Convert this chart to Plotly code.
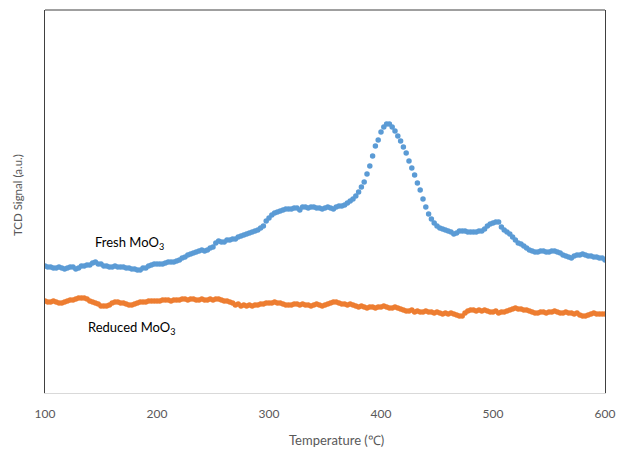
import plotly.graph_objects as go

# TCD signal (a.u.), sampled every 2.5 degC from 100 to 600 degC
fresh = [
    127,126,126,125,125,126,125,124,125,126,
    126,124,125,127,127,128,128,130,131,129,
    129,127,127,126,126,127,126,126,126,125,
    125,124,124,123,123,125,125,127,128,129,
    129,129,129,130,131,131,131,132,133,135,
    136,138,139,140,141,142,143,142,143,145,
    146,150,152,151,151,153,153,154,154,156,
    157,158,159,160,161,162,163,165,167,172,
    175,178,180,181,182,183,184,184,184,185,
    185,183,186,186,185,186,186,185,185,184,
    185,186,185,184,186,187,187,188,190,192,
    194,197,201,206,211,219,227,237,247,253,
    261,266,269,269,266,262,257,252,246,240,
    232,225,218,210,203,194,186,179,174,170,
    167,165,164,163,162,161,159,160,162,162,
    162,161,161,161,161,162,162,164,167,169,
    170,171,171,166,163,161,159,156,153,150,
    149,147,145,143,142,141,141,142,142,141,
    141,142,142,141,140,138,137,136,135,137,
    138,138,139,138,137,137,136,136,135,135,
    133,
]
reduced = [
    92,91,91,92,91,90,90,91,92,93,
    93,94,95,95,95,94,92,91,90,89,
    87,87,87,88,90,91,91,90,90,89,
    88,88,89,90,91,91,91,92,92,92,
    92,92,93,93,93,92,93,93,93,94,
    94,93,94,94,93,93,94,93,93,94,
    93,94,94,93,92,92,91,90,88,89,
    87,88,87,88,87,88,88,89,89,90,
    90,90,91,90,90,89,88,88,88,89,
    89,88,89,88,88,87,88,89,88,87,
    88,89,90,91,91,90,89,89,88,89,
    88,87,86,87,86,85,86,86,85,86,
    86,87,86,85,85,86,85,84,83,82,
    82,83,81,82,81,81,82,81,81,80,
    81,80,79,80,79,80,79,78,77,77,
    80,82,83,83,82,83,82,83,82,81,
    81,82,80,81,81,82,83,84,85,84,
    84,83,83,82,81,80,80,81,81,80,
    81,81,82,81,80,80,81,80,80,79,
    80,78,77,77,78,79,80,79,79,79,
    79,
]
temperature = [100 + 2.5 * i for i in range(len(fresh))]
x_ticks = [100, 200, 300, 400, 500, 600]

FONT = "Lato"
GRAY = "#595959"

fig = go.Figure()
fig.add_trace(go.Scatter(x=temperature, y=fresh, mode="markers", name="Fresh MoO3",
                         marker=dict(color="#5B9BD5", size=5.5, line=dict(width=0))))
fig.add_trace(go.Scatter(x=temperature, y=reduced, mode="markers", name="Reduced MoO3",
                         marker=dict(color="#ED7D31", size=5.5, line=dict(width=0))))

fig.update_layout(
    width=619, height=449,
    autosize=False,
    margin=dict(l=45, r=14, t=10, b=56, autoexpand=False),
    paper_bgcolor="white", plot_bgcolor="white",
    showlegend=False,
    font=dict(family=FONT, size=12, color=GRAY),
    xaxis=dict(range=[100, 600], tickvals=x_ticks, ticktext=[str(v) for v in x_ticks],
               showgrid=False, zeroline=False, showline=True, linecolor="#d9d9d9",
               linewidth=1, ticks="", ticklabelstandoff=10, automargin=False,
               tickfont=dict(family=FONT, size=12, color=GRAY)),
    yaxis=dict(range=[0, 383], showgrid=False, zeroline=False, showticklabels=False,
               showline=True, linecolor="#404040", linewidth=1, mirror=True, ticks="",
               automargin=False),
    shapes=[dict(type="line", xref="paper", yref="paper", x0=0, x1=1, y0=1, y1=1,
                 line=dict(color="#404040", width=1))],
    annotations=[
        dict(text="Temperature (℃)", xref="paper", yref="paper", x=0.521, y=-0.123,
             xanchor="center", yanchor="middle", showarrow=False,
             font=dict(family=FONT, size=13, color=GRAY)),
        dict(text="TCD Signal (a.u.)", xref="paper", yref="paper", x=-0.048, y=0.517,
             xanchor="center", yanchor="middle", textangle=-90, showarrow=False,
             font=dict(family=FONT, size=11.5, color=GRAY)),
        dict(text="Fresh MoO<sub>3</sub>", x=175, y=150, xanchor="center", yanchor="middle",
             showarrow=False, font=dict(family=FONT, size=13, color="black")),
        dict(text="Reduced MoO<sub>3</sub>", x=178, y=65, xanchor="center", yanchor="middle",
             showarrow=False, font=dict(family=FONT, size=13, color="black")),
    ],
)

fig.write_html(
    "out.html",
    config={"displayModeBar": False, "responsive": False},
    post_script="document.body.style.margin='0';document.body.style.overflow='hidden';",
)
